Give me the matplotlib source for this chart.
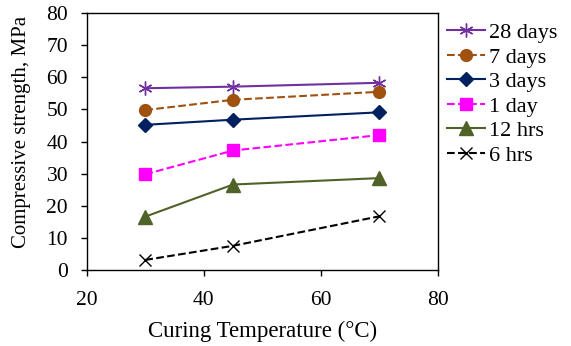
import matplotlib.pyplot as plt

plt.rcParams['font.family'] = ['Liberation Serif', 'DejaVu Serif']

temps = [30, 45, 70]

labels = ['28 days', '7 days', '3 days', '1 day', '12 hrs', '6 hrs']
s28d = [56.6, 57.1, 58.3]
s7d = [49.8, 53.0, 55.5]
s3d = [45.2, 46.8, 49.1]
s1d = [29.8, 37.2, 42.0]
s12h = [16.6, 26.6, 28.6]
s6h = [3.1, 7.5, 16.7]

xticks = [20, 40, 60, 80]
yticks = [0, 10, 20, 30, 40, 50, 60, 70, 80]

fig = plt.figure(figsize=(5.71, 3.46), dpi=100)
ax = fig.add_axes([0.152, 0.22, 0.615, 0.742])

ax.plot(temps, s28d, color='#7030A0', ls='-', lw=1.5, marker=(6, 2, 0), ms=10, mew=1.0, label=labels[0])
ax.plot(temps, s7d, color='#A0500F', ls='--', lw=1.5, marker='o', ms=8.5, label=labels[1])
ax.plot(temps, s3d, color='#002060', ls='-', lw=1.5, marker='D', ms=7, label=labels[2])
ax.plot(temps, s1d, color='#FF00FF', ls='--', lw=1.5, marker='s', ms=9, label=labels[3])
ax.plot(temps, s12h, color='#4F6228', ls='-', lw=1.5, marker='^', ms=10, label=labels[4])
ax.plot(temps, s6h, color='black', ls='--', lw=1.5, marker='x', ms=9, mew=1.0, label=labels[5])

ax.set_xlim(20, 80)
ax.set_ylim(0, 80)
ax.set_xticks(xticks)
ax.set_yticks(yticks)
ax.tick_params(direction='out', length=4.5, width=1, labelsize=15.5)
ax.tick_params(axis='x', pad=10.5)
ax.tick_params(axis='y', pad=9)
for sp in ax.spines.values():
    sp.set_linewidth(1)

ax.set_xlabel('Curing Temperature (°C)', fontsize=16.5, labelpad=8)
ax.set_ylabel('Compressive strength, MPa', fontsize=15)
ax.yaxis.set_label_coords(-0.16, 0.537)

ax.legend(loc='upper left', bbox_to_anchor=(0.783, 0.935), bbox_transform=fig.transFigure,
          frameon=False, fontsize=16, handlelength=1.7, handletextpad=0.2,
          labelspacing=0.18, borderaxespad=0, borderpad=0)

fig.savefig('out.png', dpi=100)
